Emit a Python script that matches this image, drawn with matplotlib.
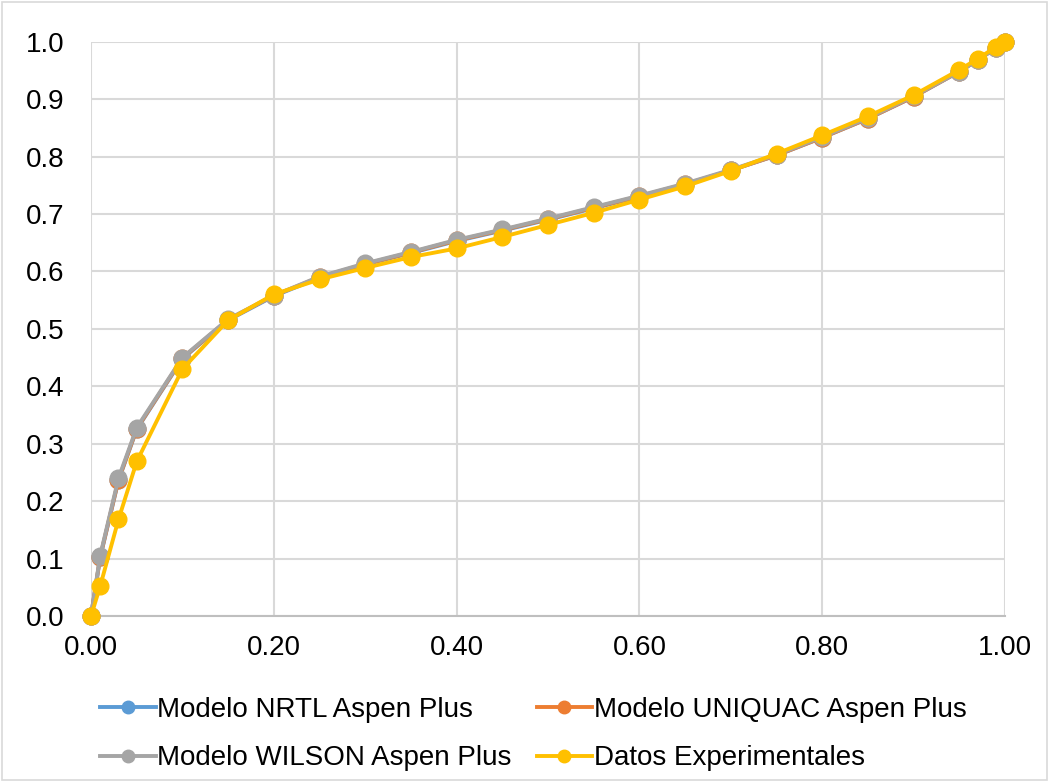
import matplotlib.pyplot as plt
from matplotlib.ticker import FormatStrFormatter, MultipleLocator

plt.rcParams['font.family'] = ['Liberation Sans', 'DejaVu Sans']

# fraccion molar liquido (x) vs vapor (y)
x_liq = [0.0, 0.01, 0.03, 0.05, 0.10, 0.15, 0.20, 0.25, 0.30, 0.35, 0.40, 0.45, 0.50,
         0.55, 0.60, 0.65, 0.70, 0.75, 0.80, 0.85, 0.90, 0.95, 0.97, 0.99, 1.0]

y_nrtl = [0.0, 0.102, 0.236, 0.325, 0.448, 0.515, 0.557, 0.589, 0.612, 0.632, 0.653, 0.671,
          0.690, 0.710, 0.730, 0.751, 0.776, 0.802, 0.833, 0.866, 0.904, 0.948, 0.968, 0.989, 1.0]
y_uniquac = [0.0, 0.103, 0.237, 0.326, 0.449, 0.516, 0.558, 0.590, 0.613, 0.633, 0.654, 0.672,
             0.691, 0.711, 0.731, 0.752, 0.776, 0.802, 0.833, 0.866, 0.904, 0.948, 0.968, 0.989, 1.0]
y_wilson = [0.0, 0.105, 0.240, 0.328, 0.450, 0.517, 0.558, 0.591, 0.614, 0.634, 0.655, 0.673,
            0.692, 0.712, 0.732, 0.753, 0.777, 0.803, 0.834, 0.867, 0.905, 0.948, 0.968, 0.989, 1.0]
y_exp = [0.0, 0.052, 0.168, 0.269, 0.430, 0.515, 0.560, 0.586, 0.606, 0.625, 0.640, 0.660,
         0.681, 0.702, 0.725, 0.748, 0.775, 0.805, 0.837, 0.870, 0.907, 0.951, 0.970, 0.991, 1.0]

labels = ['Modelo NRTL Aspen Plus', 'Modelo UNIQUAC Aspen Plus',
          'Modelo WILSON Aspen Plus', 'Datos Experimentales']
colors = ['#5B9BD5', '#ED7D31', '#A5A5A5', '#FFC000']

fig = plt.figure(figsize=(10.49, 7.82), dpi=100)
fig.patches.append(plt.Rectangle((0.0015, 0.002), 0.997, 0.996, transform=fig.transFigure,
                                 fill=False, edgecolor='#D9D9D9', linewidth=1.2))
ax = fig.add_axes([0.0868, 0.2123, 0.8713, 0.7344])

series = [y_nrtl, y_uniquac, y_wilson, y_exp]
handles = []
for ys, c, lab in zip(series, colors, labels):
    h, = ax.plot(x_liq, ys, color=c, linewidth=2.8, marker='o', markersize=12,
                 label=lab, zorder=3, clip_on=False)
    handles.append(h)

ax.set_xlim(0, 1)
ax.set_ylim(0, 1)
ax.xaxis.set_major_locator(MultipleLocator(0.2))
ax.yaxis.set_major_locator(MultipleLocator(0.1))
ax.xaxis.set_major_formatter(FormatStrFormatter('%.2f'))
ax.yaxis.set_major_formatter(FormatStrFormatter('%.1f'))
ax.grid(True, color='#D9D9D9', linewidth=1.5)
ax.set_axisbelow(True)
for s in ['top', 'right', 'left']:
    ax.spines[s].set_visible(False)
ax.spines['bottom'].set_color('#BFBFBF')
ax.spines['bottom'].set_linewidth(1.5)
ax.tick_params(axis='both', length=0, labelsize=20, colors='black')
ax.tick_params(axis='y', pad=19)
ax.tick_params(axis='x', pad=14)

# orden por filas como en Excel
order = [0, 2, 1, 3]
fig.legend(handles=[handles[i] for i in order], labels=[labels[i] for i in order],
           ncol=2, loc='upper left',
           bbox_to_anchor=(0.085, 0.1228), frameon=False, fontsize=20,
           handlelength=2.0, handletextpad=0.05, columnspacing=0.9,
           labelspacing=0.8, markerscale=0.75, borderaxespad=0)

fig.savefig('out.png', dpi=100)
